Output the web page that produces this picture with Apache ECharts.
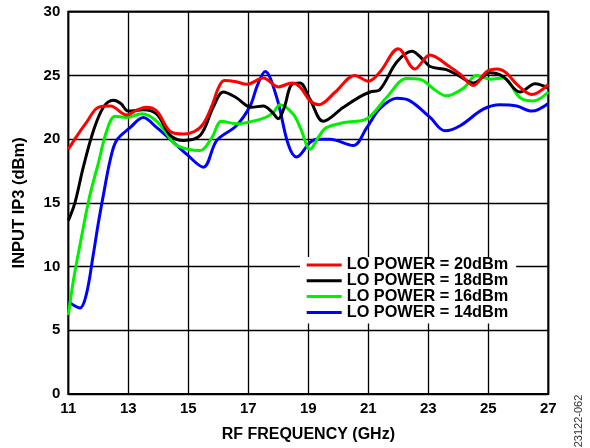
<!DOCTYPE html>
<html>
<head>
<meta charset="utf-8">
<script src="https://cdn.jsdelivr.net/npm/echarts@6/dist/echarts.min.js"></script>
<style>html,body{margin:0;padding:0;background:#fff;}#c{width:590px;height:448px;}</style>
</head>
<body>
<div id="c"></div>
<script>
// RF frequency (GHz) axis ticks and Input IP3 ticks
const xTicks = [11, 13, 15, 17, 19, 21, 23, 25, 27];
const yTicks = [0, 5, 10, 15, 20, 25, 30];
const seriesNames = ["LO POWER = 20dBm", "LO POWER = 18dBm", "LO POWER = 16dBm", "LO POWER = 14dBm"];
const seriesColors = ["#ff0000", "#000000", "#00f000", "#0000ff"];

// [frequency GHz, input IP3 dBm]
const lo20 = [[11,19.2],[11.3,20.3],[11.6,21.3],[12.0,22.5],[12.4,22.6],[12.95,21.9],[13.3,22.3],[13.6,22.5],[13.95,22.2],[14.4,20.6],[14.85,20.4],[15.2,20.6],[15.5,21.2],[15.8,22.7],[16.0,24.0],[16.2,24.6],[16.6,24.5],[16.95,24.3],[17.5,24.8],[18.0,24.1],[18.45,24.4],[18.72,24.1],[19.06,23.0],[19.35,22.7],[19.9,23.7],[20.55,25.0],[21.0,24.55],[21.4,25.3],[22.0,27.1],[22.55,25.5],[23.05,26.6],[23.7,25.7],[24.06,25.1],[24.5,24.2],[24.95,25.3],[25.3,25.5],[25.6,25.2],[25.95,24.3],[26.45,23.5],[27,24.3]];
const lo18 = [[11,13.6],[11.22,15.0],[11.5,17.8],[11.83,20.6],[12.17,22.5],[12.5,23.05],[12.75,22.8],[13.0,22.2],[13.5,22.3],[13.95,21.95],[14.4,20.3],[14.85,19.9],[15.4,20.3],[15.83,22.5],[16.17,23.7],[16.6,23.25],[17.1,22.5],[17.5,22.6],[17.8,22.1],[18.0,21.6],[18.2,22.5],[18.45,24.3],[18.72,24.4],[19.06,23.1],[19.5,21.4],[20.17,22.5],[20.7,23.3],[21.06,23.7],[21.39,23.9],[21.95,26.05],[22.45,26.9],[22.8,26.3],[23.06,25.7],[23.6,25.45],[24.0,25.0],[24.5,24.4],[25.06,25.2],[25.5,24.9],[26.06,23.7],[26.56,24.35],[27,24.0]];
const lo16 = [[11,6.2],[11.17,8.9],[11.39,11.7],[11.7,15.4],[12.0,18.1],[12.28,20.65],[12.56,21.8],[12.95,21.7],[13.45,22.0],[13.95,21.4],[14.56,19.6],[15.0,19.2],[15.39,19.1],[15.78,20.1],[16.11,21.4],[16.6,21.2],[17.39,21.55],[17.8,22.0],[18.06,22.7],[18.5,21.95],[18.75,20.8],[19.06,19.2],[19.35,20.2],[19.6,20.9],[20.2,21.3],[20.95,21.6],[21.6,23.25],[22.28,24.76],[22.72,24.7],[23.2,23.9],[23.6,23.4],[24.17,24.0],[24.61,25.0],[25.06,24.7],[25.5,24.8],[26.06,23.25],[26.5,23.0],[27,23.7]];
const lo14 = [[11,7.3],[11.15,7.0],[11.39,6.75],[11.6,7.8],[11.83,10.9],[12.0,13.4],[12.2,16.0],[12.4,18.4],[12.61,19.9],[13.06,20.9],[13.5,21.7],[13.95,20.9],[14.39,20.0],[14.95,18.8],[15.5,17.8],[15.95,19.9],[16.6,21.05],[17.06,22.6],[17.3,24.2],[17.56,25.3],[17.95,23.25],[18.33,19.6],[18.61,18.6],[19.06,19.75],[19.28,20.0],[19.72,20.0],[20.5,19.5],[20.95,20.9],[21.39,22.4],[21.95,23.2],[22.39,23.0],[23.06,21.7],[23.56,20.65],[24.06,21.05],[24.83,22.35],[25.39,22.7],[25.95,22.6],[26.45,22.2],[27,22.8]];

const allData = [lo20, lo18, lo16, lo14];
const xMin = xTicks[0];
const FONT = "'Liberation Sans', Arial, sans-serif";

const chart = echarts.init(document.getElementById('c'), null, {renderer: 'canvas'});
chart.setOption({
  animation: false,
  backgroundColor: '#fff',
  grid: {left: 68.3, right: 41.7, top: 11.7, bottom: 51, show: true, borderColor: '#000', borderWidth: 2, backgroundColor: 'transparent'},
  xAxis: {
    type: 'value', min: 0, max: xTicks[xTicks.length - 1] - xMin, interval: 2,
    axisLine: {show: false}, axisTick: {show: false},
    splitLine: {show: true, lineStyle: {color: '#000', width: 1.3}},
    axisLabel: {formatter: v => String(v + xMin), color: '#000', fontFamily: FONT, fontWeight: 'bold', fontSize: 15, margin: 7},
    name: 'RF FREQUENCY (GHz)', nameLocation: 'middle', nameGap: 33,
    nameTextStyle: {color: '#000', fontFamily: FONT, fontWeight: 'bold', fontSize: 16}
  },
  yAxis: {
    type: 'value', min: yTicks[0], max: yTicks[yTicks.length - 1], interval: 5,
    axisLine: {show: false}, axisTick: {show: false},
    splitLine: {show: true, lineStyle: {color: '#000', width: 1.3}},
    axisLabel: {color: '#000', fontFamily: FONT, fontWeight: 'bold', fontSize: 15, margin: 8},
    name: 'INPUT IP3 (dBm)', nameLocation: 'middle', nameGap: 40, nameRotate: 90,
    nameTextStyle: {color: '#000', fontFamily: FONT, fontWeight: 'bold', fontSize: 16.5}
  },
  legend: {
    orient: 'vertical', left: 300, top: 257,
    padding: [0, 8, 3, 6.7],
    backgroundColor: '#fff',
    itemWidth: 35, itemHeight: 3, itemGap: -0.2, icon: 'rect',
    textStyle: {color: '#000', fontFamily: FONT, fontWeight: 'bold', fontSize: 16.3, lineHeight: 14},
    data: seriesNames
  },
  graphic: [{
    type: 'text', x: 579, y: 421, rotation: Math.PI / 2,
    style: {text: '23122-062', fill: '#333', font: "11px " + FONT, textAlign: 'center', textVerticalAlign: 'middle'}
  }],
  series: allData.map((d, i) => ({
    name: seriesNames[i], type: 'line', smooth: 0.35, showSymbol: false,
    color: seriesColors[i], z: 10 - i,
    lineStyle: {width: 3, color: seriesColors[i]},
    data: d.map(p => [p[0] - xMin, p[1]])
  }))
});
</script>
</body>
</html>
